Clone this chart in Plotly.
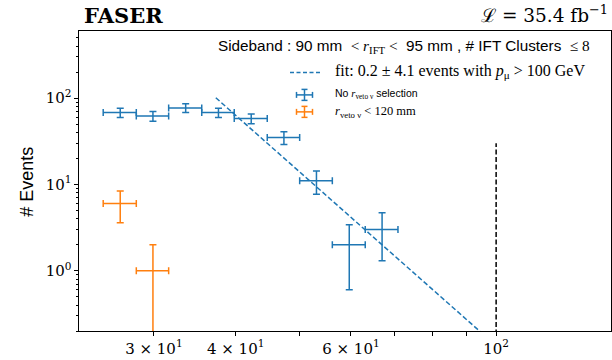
import plotly.graph_objects as go

# ---------------- data ----------------
bin_lo = [25.1, 28.2, 31.6, 35.5, 39.8, 44.7, 50.1, 56.2, 63.1]
bin_hi = [28.2, 31.6, 35.5, 39.8, 44.7, 50.1, 56.2, 63.1, 70.8]
blue_counts = [68, 62, 77, 68, 58, 35, 11, 2, 3]
blue_err = [8.2, 7.9, 8.8, 8.2, 7.6, 5.9, 3.3, 1.4, 1.7]

orange_lo = [25.1, 28.2]
orange_hi = [28.2, 31.6]
orange_counts = [6, 1]
orange_err = [2.4, 1.0]

fit_x = [37.3, 100.0]
fit_y = [101.0, 0.135]

cut_x = [100, 100]
cut_y = [0.1, 30]

xtick_vals = [30, 40, 50, 60, 70, 80, 90, 100]
xtick_text = ["3 × 10<sup>1</sup>", "4 × 10<sup>1</sup>", " ", "6 × 10<sup>1</sup>", " ", " ", " ", "10<sup>2</sup>"]
ytick_vals = [1, 10, 100]
ytick_text = ["10<sup>0</sup>", "10<sup>1</sup>", "10<sup>2</sup>"]
yminor_vals = [0.2, 0.3, 0.4, 0.5, 0.6, 0.7, 0.8, 0.9,
               2, 3, 4, 5, 6, 7, 8, 9,
               20, 30, 40, 50, 60, 70, 80, 90,
               200, 300, 400, 500]

BLUE = "#1f77b4"
ORANGE = "#ff7f0e"
SERIF = "DejaVu Serif"
TSERIF = "Liberation Serif"
SANS = "Liberation Sans"

# geometry (px)
W, H = 612, 360
L, R, T, B = 79, 611, 31, 331.5
PW, PH = R - L, B - T


def px(x):
    return (x - L) / PW


def py(y):
    return (B - y) / PH


def centers(lo, hi):
    return [(a + b) / 2 for a, b in zip(lo, hi)]


fig = go.Figure()


def add_eb(lo, hi, counts, err, color):
    c = centers(lo, hi)
    fig.add_trace(go.Scatter(
        x=c, y=counts, mode="markers",
        marker=dict(size=1, color=color, opacity=0),
        error_x=dict(type="data", symmetric=False,
                     array=[h - m for h, m in zip(hi, c)],
                     arrayminus=[m - l for l, m in zip(lo, c)],
                     color=color, thickness=1.5, width=3.5),
        error_y=dict(type="data", array=err, color=color, thickness=1.5, width=3.5),
        showlegend=False, hoverinfo="skip"))


add_eb(bin_lo, bin_hi, blue_counts, blue_err, BLUE)
add_eb(orange_lo, orange_hi, orange_counts, orange_err, ORANGE)

fig.add_trace(go.Scatter(x=fit_x, y=fit_y, mode="lines",
                         line=dict(color=BLUE, width=1.5, dash="5px,2.5px"),
                         showlegend=False, hoverinfo="skip"))
fig.add_trace(go.Scatter(x=cut_x, y=cut_y, mode="lines",
                         line=dict(color="black", width=1.5, dash="5px,2.5px"),
                         showlegend=False, hoverinfo="skip"))

# ---------------- legend (manual) ----------------
ann = []
shapes = []
ann.append(dict(
    x=px(592), y=py(47), xref="paper", yref="paper", xanchor="right", yanchor="middle",
    showarrow=False, font=dict(family=SANS, size=15.3, color="black"),
    text=("Sideband : 90 mm  <span style=\"font-family:'Liberation Serif'\">&lt; <i>r</i><sub>IFT</sub> &lt;</span>"
          "  95 mm , # IFT Clusters  <span style=\"font-family:'Liberation Serif'\">≤ 8</span>")))
# fit entry
shapes.append(dict(type="line", xref="paper", yref="paper", x0=px(290), x1=px(320),
                   y0=py(72.5), y1=py(72.5), line=dict(color=BLUE, width=1.5, dash="4px,2.5px")))
ann.append(dict(x=px(333), y=py(72), xref="paper", yref="paper", xanchor="left", yanchor="middle",
                showarrow=False, font=dict(family=TSERIF, size=16, color="black"),
                text="fit: 0.2 ± 4.1 events with <i>p</i><sub>μ</sub> &gt; 100 GeV"))
# errorbar entries
for yc, col in [(95, BLUE), (112, ORANGE)]:
    shapes.append(dict(type="line", xref="paper", yref="paper", x0=px(296.5), x1=px(312.5),
                       y0=py(yc), y1=py(yc), line=dict(color=col, width=1.5)))
    shapes.append(dict(type="line", xref="paper", yref="paper", x0=px(304.5), x1=px(304.5),
                       y0=py(yc - 5.5), y1=py(yc + 5.5), line=dict(color=col, width=1.5)))
    for xc in (296.5, 312.5):
        shapes.append(dict(type="line", xref="paper", yref="paper", x0=px(xc), x1=px(xc),
                           y0=py(yc - 3), y1=py(yc + 3), line=dict(color=col, width=1.5)))
    for yy in (yc - 5.5, yc + 5.5):
        shapes.append(dict(type="line", xref="paper", yref="paper", x0=px(301.5), x1=px(307.5),
                           y0=py(yy), y1=py(yy), line=dict(color=col, width=1.5)))
ann.append(dict(x=px(333), y=py(94), xref="paper", yref="paper", xanchor="left", yanchor="middle",
                showarrow=False, font=dict(family=SANS, size=10.5, color="black"),
                text="No <span style=\"font-family:'Liberation Serif'\"><i>r</i><sub>veto ν</sub></span> selection"))
ann.append(dict(x=px(333), y=py(112), xref="paper", yref="paper", xanchor="left", yanchor="middle",
                showarrow=False, font=dict(family=TSERIF, size=12.5, color="black"),
                text="<i>r</i><sub>veto ν</sub> &lt; 120 mm"))

# titles
ann.append(dict(x=px(82), y=py(15), xref="paper", yref="paper", xanchor="left", yanchor="middle",
                showarrow=False, font=dict(family=SERIF, size=21, color="black"),
                text="<b>FASER</b>"))
ann.append(dict(x=px(610), y=py(13.5), xref="paper", yref="paper", xanchor="right", yanchor="middle",
                showarrow=False, font=dict(family=SERIF, size=18.5, color="black"),
                text="ℒ = 35.4 fb<sup>−1</sup>"))
ann.append(dict(x=px(27), y=py(182), xref="paper", yref="paper", xanchor="center", yanchor="middle",
                showarrow=False, textangle=-90, font=dict(family=SANS, size=18, color="black"),
                text="# Events"))

fig.update_layout(
    width=W, height=H,
    margin=dict(l=L, r=W - R, t=T, b=H - B, pad=0),
    paper_bgcolor="white", plot_bgcolor="white",
    annotations=ann, shapes=shapes, showlegend=False,
    xaxis=dict(type="log", range=[1.3627, 2.1755], showgrid=False, zeroline=False,
               showline=True, linecolor="black", linewidth=1.1, mirror=True,
               ticks="outside", ticklen=3.5, tickwidth=1, tickcolor="black",
               tickmode="array", tickvals=xtick_vals, ticktext=xtick_text,
               tickfont=dict(family=SERIF, size=15, color="black")),
    yaxis=dict(type="log", range=[-0.699, 2.778], showgrid=False, zeroline=False,
               showline=True, linecolor="black", linewidth=1.1, mirror=True,
               ticks="outside", ticklen=3.5, tickwidth=1, tickcolor="black",
               tickmode="array", tickvals=ytick_vals, ticktext=ytick_text,
               tickfont=dict(family=SERIF, size=15, color="black"),
               minor=dict(ticks="outside", ticklen=2, tickwidth=0.8, tickcolor="black",
                          tickmode="array", tickvals=yminor_vals, showgrid=False)),
)

fig.write_html("out.html", config={"displayModeBar": False},
               post_script="document.body.style.margin='0';document.body.style.overflow='hidden';")
